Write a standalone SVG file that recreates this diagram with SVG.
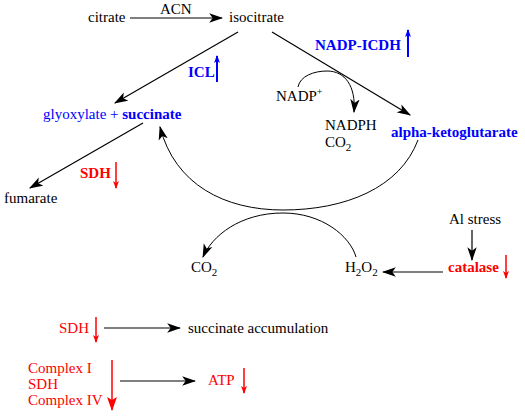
<svg xmlns="http://www.w3.org/2000/svg" width="525" height="418" viewBox="0 0 525 418">
<defs>
<marker id="ah" markerUnits="userSpaceOnUse" markerWidth="14" markerHeight="10" refX="11" refY="4" orient="auto" viewBox="0 0 12 8">
<path d="M0,0 L12,4 L0,8 L3,4 Z" fill="#000"/>
</marker>
<marker id="ahb" markerUnits="userSpaceOnUse" markerWidth="8" markerHeight="8" refX="7" refY="3" orient="auto" viewBox="0 0 8 6">
<path d="M0,0 L8,3 L0,6 L2,3 Z" fill="#0000ff"/>
</marker>
<marker id="ahr" markerUnits="userSpaceOnUse" markerWidth="8" markerHeight="8" refX="7" refY="3" orient="auto" viewBox="0 0 8 6">
<path d="M0,0 L8,3 L0,6 L2,3 Z" fill="#ff0000"/>
</marker>
<marker id="ahrb" markerUnits="userSpaceOnUse" markerWidth="14" markerHeight="12" refX="13" refY="5" orient="auto" viewBox="0 0 14 10">
<path d="M0,0 L14,5 L0,10 L3,5 Z" fill="#ff0000"/>
</marker>
</defs>
<style>
text{font-family:"Liberation Serif","Times New Roman",serif;font-size:15px;fill:#000}
.b{fill:#0000ff}
.bb{fill:#0000ff;font-weight:bold}
.r{fill:#ff0000}
.rb{fill:#ff0000;font-weight:bold}
.k{stroke:#000;stroke-width:1.2;fill:none;marker-end:url(#ah)}
.c{stroke:#000;stroke-width:1;fill:none}
.up{stroke:#0000ff;stroke-width:2;fill:none;marker-end:url(#ahb)}
.dn{stroke:#ff0000;stroke-width:1.5;fill:none;marker-end:url(#ahr)}
</style>
<rect width="525" height="418" fill="#fff"/>
<g id="connectors">
<line class="k" x1="130" y1="18" x2="222" y2="18"/>
<line class="k" x1="238" y1="32" x2="115" y2="103"/>
<line class="k" x1="272" y1="32" x2="410" y2="115"/>
<path class="c" d="M298,87 C300,76 314,71 327,71 C345,71 356,86 354,112" marker-end="url(#ah)"/>
<line class="k" x1="143" y1="123" x2="30" y2="188"/>
<path class="c" d="M418,140 C400,188 345,210 283,210 C225,210 175,185 160,127" marker-end="url(#ah)"/>
<path class="c" d="M356,257 C350,236 322,213 283,213 C240,213 212,236 203,257" marker-end="url(#ah)"/>
<line class="k" x1="443" y1="272" x2="383" y2="272"/>
<line class="k" x1="472" y1="230" x2="472" y2="260"/>
<line class="k" x1="104" y1="328" x2="180" y2="328"/>
<line class="k" x1="120" y1="381" x2="195" y2="381"/>
</g>
<g id="indicators">
<line class="up" x1="217" y1="82" x2="217" y2="56"/>
<line class="up" x1="408" y1="57" x2="408" y2="30"/>
<line class="dn" x1="116" y1="162" x2="116" y2="188"/>
<line class="dn" x1="506" y1="255" x2="506" y2="278"/>
<line class="dn" x1="96" y1="317" x2="96" y2="342"/>
<line x1="112" y1="360" x2="112" y2="410" stroke="#ff0000" stroke-width="1.5" marker-end="url(#ahrb)"/>
<line class="dn" x1="244" y1="368" x2="244" y2="393"/>
</g>
<g id="citrate"><text x="88" y="22">citrate</text></g>
<g id="acn"><text x="160" y="14">ACN</text></g>
<g id="isocitrate"><text x="229" y="22">isocitrate</text></g>
<g id="icl"><text x="188" y="77" class="bb">ICL</text></g>
<g id="nadp-icdh"><text x="315" y="50" class="bb">NADP-ICDH</text></g>
<g id="nadp"><text x="276" y="101">NADP<tspan dy="-6" font-size="10">+</tspan></text></g>
<g id="nadph"><text x="325" y="130">NADPH</text><text x="325" y="147">CO<tspan dy="4" font-size="11">2</tspan></text></g>
<g id="glyoxylate"><text x="43" y="119" class="b">glyoxylate + <tspan font-weight="bold">succinate</tspan></text></g>
<g id="akg"><text x="391" y="137" class="bb">alpha-ketoglutarate</text></g>
<g id="sdh1"><text x="80" y="178" class="rb">SDH</text></g>
<g id="fumarate"><text x="4" y="203">fumarate</text></g>
<g id="co2"><text x="191" y="272">CO<tspan dy="4" font-size="11">2</tspan></text></g>
<g id="h2o2"><text x="345" y="272">H<tspan dy="4" font-size="11">2</tspan><tspan dy="-4">O</tspan><tspan dy="4" font-size="11">2</tspan></text></g>
<g id="alstress"><text x="449" y="224">Al stress</text></g>
<g id="catalase"><text x="448" y="272" class="rb">catalase</text></g>
<g id="sdh2"><text x="59" y="333" class="r">SDH</text></g>
<g id="succacc"><text x="188" y="333">succinate accumulation</text></g>
<g id="complexes"><text x="28" y="373" class="r">Complex I</text><text x="28" y="389" class="r">SDH</text><text x="28" y="405" class="r">Complex IV</text></g>
<g id="atp"><text x="208" y="385" class="r">ATP</text></g>
</svg>
